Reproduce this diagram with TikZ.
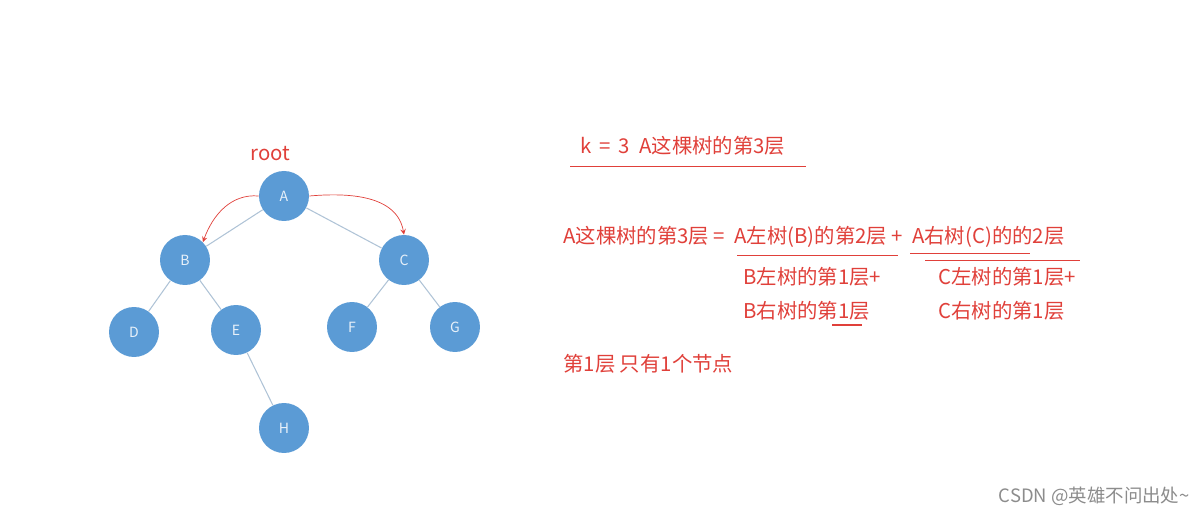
\documentclass[tikz,border=0pt]{standalone}
\usepackage{fontspec}
\setmainfont{Noto Sans CJK SC}
\usetikzlibrary{positioning}
\definecolor{nodeblue}{HTML}{5B9BD5}
\definecolor{edgegray}{HTML}{AFC3D6}
\definecolor{inkred}{HTML}{E0403A}
\tikzset{
>=stealth, % All arrows with stealth tick
tree node/.style={circle,fill=nodeblue,minimum size=1.0cm,inner sep=0pt,text=white!85!nodeblue,font=\fontsize{8}{9}\selectfont},
tree edge/.style={draw=edgegray,semithick},
note/.style={anchor=west,inner sep=0pt,text=inkred,font=\fontsize{11.6}{13}\selectfont},
mark line/.style={draw=inkred,thin},
}
\begin{document}
\begin{tikzpicture}[x=0.02cm,y=-0.02cm]
\useasboundingbox (0,0) rectangle (1198,516);
% the tree
\node[tree node] (A) at (284,196) {A};
\node[tree node] (B) at (185,260) {B};
\node[tree node] (C) at (404,260) {C};
\node[tree node] (D) at (134,332) {D};
\node[tree node] (E) at (236,330) {E};
\node[tree node] (F) at (352,327) {F};
\node[tree node] (G) at (455,327) {G};
\node[tree node] (H) at (284,428) {H};
\foreach \a/\b in {A/B,A/C,B/D,B/E,C/F,C/G,E/H}
  \path[tree edge] (\a) -- (\b);
\node[note] (root) at (250,154) {root};
\draw[->,inkred,thin] (A.west) to[out=175,in=70] (B.north east);
\draw[->,inkred,thin] (A.east) to[out=5,in=100] (C.north);
% the notes
\node[note] (k) at (580,146) {k\ \,=\ \,3\ \ A这棵树的第3层};
\coordinate (k1) at (570,166); \coordinate (k2) at (806,166);
\draw[mark line] (k1) -- (k2);
\node[note] (eq) at (563,237) {A这棵树的第3层\ = \ A左树(B)的第2层\ + \ A右树(C)的的2层};
\coordinate (u1) at (737,255); \coordinate (u2) at (898,255);
\coordinate (u3) at (910,253); \coordinate (u4) at (1030,253);
\coordinate (u5) at (925,260); \coordinate (u6) at (1080,260);
\draw[mark line] (u1) -- (u2) (u3) -- (u4) (u5) -- (u6);
\node[note] (bl) at (743,277) {B左树的第1层+};
\node[note] (br) at (743,311) {B右树的第1层};
\node[note] (cl) at (938,277) {C左树的第1层+};
\node[note] (cr) at (938,311) {C右树的第1层};
\coordinate (v1) at (832,325); \coordinate (v2) at (862,325);
\draw[mark line,semithick] (v1) -- (v2);
\node[note] (one) at (563,364) {第1层 只有1个节点};
\node[anchor=east,inner sep=0pt,text=black!45,font=\fontsize{10.5}{12}\selectfont] (wm) at (1190,496) {CSDN @英雄不问出处\textasciitilde};
\end{tikzpicture}
\end{document}
